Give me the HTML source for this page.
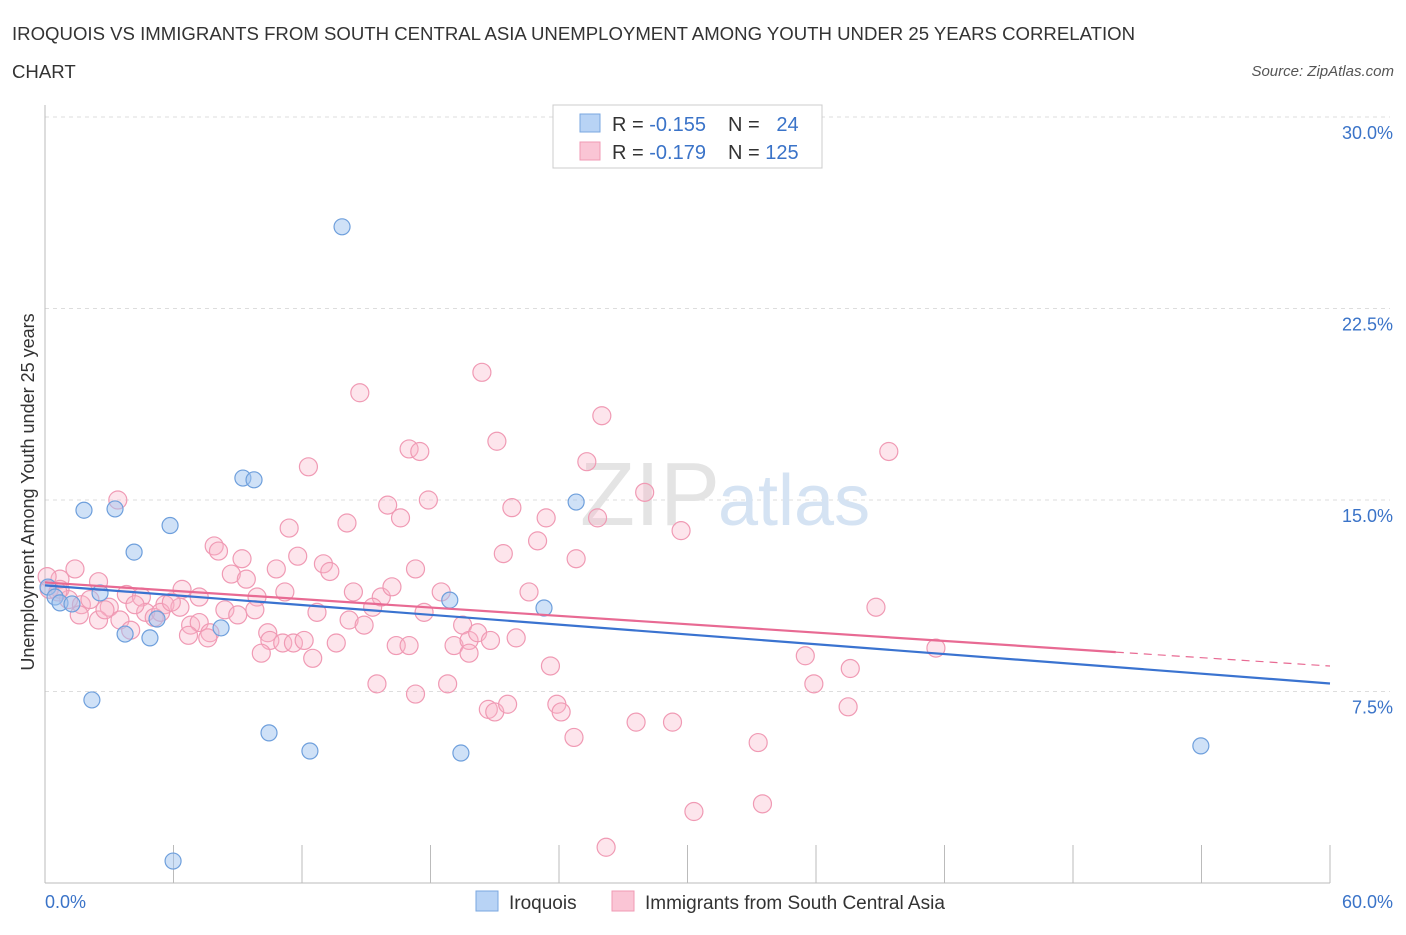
<!DOCTYPE html>
<html><head><meta charset="utf-8"><style>
body{margin:0;background:#fff;font-family:"Liberation Sans",sans-serif;}
svg text{font-family:"Liberation Sans",sans-serif;}
</style></head><body>
<svg id="chart" width="1406" height="930">
<text x="12" y="40" font-size="18.6" fill="#333">IROQUOIS VS IMMIGRANTS FROM SOUTH CENTRAL ASIA UNEMPLOYMENT AMONG YOUTH UNDER 25 YEARS CORRELATION</text>
<text x="12" y="78" font-size="18.6" fill="#333">CHART</text>
<text x="1394" y="76" font-size="15" fill="#555" font-style="italic" text-anchor="end">Source: ZipAtlas.com</text>
<g id="grid"></g>
<text x="720" y="525" font-size="90" fill="#e4e4e4" text-anchor="end" font-family="Liberation Serif">ZIP</text>
<text x="718" y="525" font-size="72" fill="#d5e3f3">atlas</text>
<text transform="translate(34,492) rotate(-90)" font-size="18" fill="#333" text-anchor="middle">Unemployment Among Youth under 25 years</text>
<g id="marks"></g>
<g>
<rect x="553" y="105" width="269" height="63" fill="#fff" stroke="#ccc"/>
<rect x="580" y="114" width="20" height="18" fill="#b8d3f5" stroke="#7aa7e0"/>
<rect x="580" y="142" width="20" height="18" fill="#fac5d5" stroke="#f09ab4"/>
<text x="612" y="131" font-size="20" fill="#333">R = <tspan fill="#3a73c8">-0.155</tspan></text>
<text x="728" y="131" font-size="20" fill="#333">N = <tspan fill="#3a73c8">&#160;&#160;24</tspan></text>
<text x="612" y="159" font-size="20" fill="#333">R = <tspan fill="#3a73c8">-0.179</tspan></text>
<text x="728" y="159" font-size="20" fill="#333">N = <tspan fill="#3a73c8">125</tspan></text>
</g>
<g>
<rect x="476" y="891" width="22" height="20" fill="#b8d3f5" stroke="#7aa7e0"/>
<text x="509" y="909" font-size="19" fill="#333">Iroquois</text>
<rect x="612" y="891" width="22" height="20" fill="#fac5d5" stroke="#f09ab4"/>
<text x="645" y="909" font-size="19" fill="#333">Immigrants from South Central Asia</text>
</g>
</svg>
<script>
const yTicks=[7.5,15,22.5,30];
const yTickLabels=["7.5%","15.0%","22.5%","30.0%"];
const xTickLabels=["0.0%","60.0%"];
const blueX=[13.87,1.82,3.27,5.84,4.16,9.24,9.76,24.8,0.14,0.47,0.70,1.26,2.57,3.74,4.90,5.23,8.22,18.9,23.3,2.19,10.46,12.37,19.42,53.97,5.98];
const blueY=[25.7,14.6,14.65,14.0,12.96,15.86,15.79,14.92,11.59,11.2,10.97,10.93,11.36,9.75,9.6,10.34,9.99,11.08,10.77,7.17,5.88,5.17,5.09,5.37,0.86];
const pinkX=[20.4,14.7,26.0,21.1,39.4,17.0,17.5,12.3,25.3,28.0,3.4,16.0,17.9,21.8,16.6,14.1,23.4,25.8,11.4,29.7,23.0,7.9,8.1,9.2,11.8,21.4,24.8,1.4,8.7,10.8,13.0,13.3,9.4,17.3,0.7,2.5,3.8,4.5,6.4,7.2,9.9,11.2,14.4,15.7,16.2,18.5,22.6,0.7,1.1,1.7,2.1,3.0,3.5,4.7,5.6,6.3,4.2,5.1,5.4,5.9,8.4,9.8,12.7,15.3,17.7,2.5,1.6,6.8,7.2,7.7,6.7,7.6,9.0,10.4,10.5,11.1,11.6,12.1,13.6,14.2,14.9,16.4,17.0,19.1,19.5,19.8,20.2,20.8,22.0,19.8,10.1,12.5,35.5,23.6,37.6,15.5,17.3,18.8,35.9,20.7,21.0,21.6,23.9,24.1,27.6,29.3,37.5,24.7,33.3,38.8,41.6,30.3,33.5,26.2,0.1,0.2,0.6,2.8,4.0];
const pinkY=[20.0,19.2,18.3,17.3,16.9,17.0,16.9,16.3,16.5,15.3,15.0,14.8,15.0,14.7,14.3,14.1,14.3,14.3,13.9,13.8,13.4,13.2,13.0,12.7,12.8,12.9,12.7,12.3,12.1,12.3,12.5,12.2,11.9,12.3,11.9,11.8,11.3,11.2,11.5,11.2,11.2,11.4,11.4,11.2,11.6,11.4,11.4,11.5,11.1,10.9,11.1,10.8,10.3,10.6,10.9,10.8,10.9,10.4,10.6,11.0,10.7,10.7,10.6,10.8,10.6,10.3,10.5,10.1,10.2,9.8,9.7,9.6,10.5,9.8,9.5,9.4,9.4,9.5,9.4,10.3,10.1,9.3,9.3,9.3,10.1,9.5,9.8,9.5,9.6,9.0,9.0,8.8,8.9,8.5,8.4,7.8,7.4,7.8,7.8,6.8,6.7,7.0,7.0,6.7,6.3,6.3,6.9,5.7,5.5,10.8,9.2,2.8,3.1,1.4,12.0,11.5,11.4,10.7,9.9];
const NS="http://www.w3.org/2000/svg";
const X0=45,X1=1330,Y0=883,Y30=117;
function sx(v){return X0+(v/60)*(X1-X0);}
function sy(v){return Y0-(v/30)*(Y0-Y30);}
function mk(t,a,p){const e=document.createElementNS(NS,t);for(const k in a)e.setAttribute(k,a[k]);(p||document.getElementById('marks')).appendChild(e);return e;}
const grid=document.getElementById('grid');
yTicks.forEach((t,i)=>{
 const l=mk('line',{x1:X0,x2:X1+60,y1:sy(t),y2:sy(t),stroke:'#ddd','stroke-dasharray':'4,4'},grid);
 
 
 const tx=mk('text',{x:1393,y:sy(t)+22,'font-size':18,fill:'#3a73c8','text-anchor':'end'},grid);
 tx.textContent=yTickLabels[i];
 
 
});
const ax=mk('line',{x1:X0,x2:X1,y1:Y0,y2:Y0,stroke:'#bbb'},grid);


const ay=mk('line',{x1:X0,x2:X0,y1:105,y2:Y0,stroke:'#bbb'},grid);


for(let i=1;i<=10;i++){
 const t=mk('line',{x1:sx(i*6),x2:sx(i*6),y1:Y0,y2:Y0-38,stroke:'#bbb'},grid);
 
 
}
[[0,'start',45],[60,'end',1393]].forEach((d,i)=>{
 const tx=mk('text',{x:d[2],y:908,'font-size':18,fill:'#3a73c8','text-anchor':d[1]},grid);
 tx.textContent=xTickLabels[i];
 
 
});
function reg(xs,ys){const n=xs.length;let mx=0,my=0;for(let i=0;i<n;i++){mx+=xs[i];my+=ys[i];}mx/=n;my/=n;let sxy=0,sxx=0;for(let i=0;i<n;i++){sxy+=(xs[i]-mx)*(ys[i]-my);sxx+=(xs[i]-mx)**2;}const b=sxy/sxx;return [my-b*mx,b];}
pinkX.forEach((x,i)=>{const c=mk('circle',{cx:sx(x),cy:sy(pinkY[i]),r:9,fill:'rgba(248,180,200,0.35)',stroke:'#f09ab4','stroke-width':1.2});
 
 });
blueX.forEach((x,i)=>{const c=mk('circle',{cx:sx(x),cy:sy(blueY[i]),r:8,fill:'rgba(160,196,240,0.5)',stroke:'#6e9fdc','stroke-width':1.2});
 
 });
const [ba,bb]=reg(blueX,blueY);
const bl=mk('line',{x1:sx(0),y1:sy(ba),x2:sx(60),y2:sy(ba+bb*60),stroke:'#3a73d0','stroke-width':2.2});


const [pa,pb]=reg(pinkX,pinkY);
const pl=mk('line',{x1:sx(0),y1:sy(pa),x2:sx(50),y2:sy(pa+pb*50),stroke:'#e86a93','stroke-width':2.2});


const pd=mk('line',{x1:sx(50),y1:sy(pa+pb*50),x2:sx(60),y2:sy(pa+pb*60),stroke:'#e86a93','stroke-width':1.2,'stroke-dasharray':'8,6'});


</script>
</body></html>
